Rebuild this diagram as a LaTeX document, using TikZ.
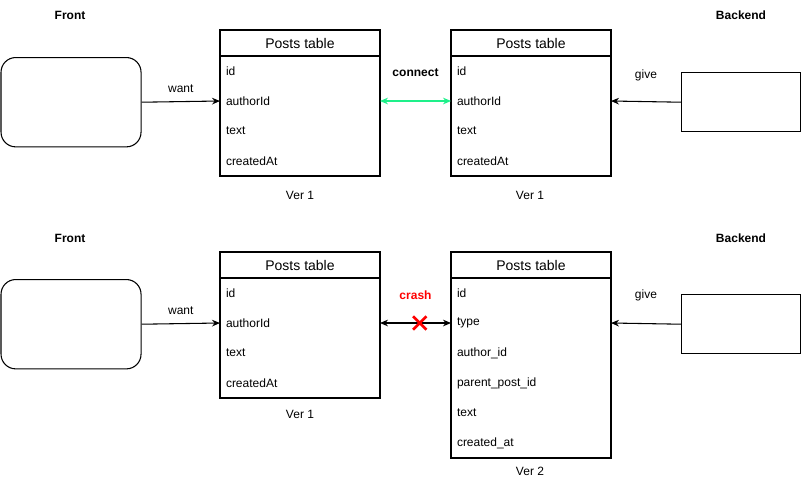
\documentclass[tikz,border=0pt]{standalone}
\usepackage{fontspec}
\setmainfont{Liberation Sans}
\usepackage{xcolor}
\usetikzlibrary{arrows.meta, positioning, shapes.misc}
\definecolor{dbGreen}{HTML}{1EF08A}
\definecolor{dbRed}{HTML}{FF0000}

\begin{document}
\begin{tikzpicture}[
  x=0.75pt, y=-0.75pt, font=\fontsize{9}{11}\selectfont,
  hdr/.style={draw, thick, minimum width=120pt, minimum height=19.5pt, inner sep=0pt, outer sep=0pt,
              font=\fontsize{10.5}{12}\selectfont, anchor=north west},
  row/.style={text width=111pt, inner xsep=4.5pt, inner ysep=0pt, outer sep=0pt, minimum height=22.5pt, align=left},
  client/.style={draw, thick, rounded corners=11pt, minimum width=105pt, minimum height=67pt, anchor=north west},
  server/.style={draw, thick, minimum width=89pt, minimum height=44.5pt, anchor=north west},
  side/.style={font=\bfseries\fontsize{9}{11}\selectfont},
  arr/.style={-{Stealth[length=6pt, width=5pt]}, thick},
  ok/.style={{Stealth[length=6pt, width=5pt]}-{Stealth[length=6pt, width=5pt]}, thick, draw=dbGreen},
  bad/.style={{Stealth[length=6pt, width=5pt]}-{Stealth[length=6pt, width=5pt]}, thick},
  lbl/.style={midway, font=\fontsize{9}{11}\selectfont},
]
\useasboundingbox (0,0) rectangle (801,487);

% ---- top: both on ver 1
\node[side] (front1) at (70,15) {Front};
\node[side] (back1) at (741,15) {Backend};
\node[client] (fe1) at (0.5,57) {};
\node[server] (be1) at (681,72) {};

\node[hdr] (a1) at (220,30) {Posts table};
\node[row, below=0pt of a1] (a1r1) {id};
\node[row, below=0pt of a1r1] (a1r2) {authorId};
\node[row, below=0pt of a1r2] (a1r3) {text};
\node[row, below=0pt of a1r3] (a1r4) {createdAt};
\draw[thick] (a1.north west) rectangle (a1r4.south east);
\node (va1) at (300,195) {Ver 1};

\node[hdr] (b1) at (451,30) {Posts table};
\node[row, below=0pt of b1] (b1r1) {id};
\node[row, below=0pt of b1r1] (b1r2) {authorId};
\node[row, below=0pt of b1r2] (b1r3) {text};
\node[row, below=0pt of b1r3] (b1r4) {createdAt};
\draw[thick] (b1.north west) rectangle (b1r4.south east);
\node (vb1) at (530,195) {Ver 1};

\draw[arr] (fe1.east) -- node[lbl, yshift=9.75pt]{want} (a1r2.west);
\draw[ok] (a1r2.east) -- node[lbl, yshift=21pt, font=\bfseries\fontsize{9}{11}\selectfont]{connect} (b1r2.west);
\draw[arr] (be1.west) -- node[lbl, yshift=20pt]{give} (b1r2.east);

% ---- bottom: front ver 1, backend ver 2
\node[side] (front2) at (70,238) {Front};
\node[side] (back2) at (741,238) {Backend};
\node[client] (fe2) at (0.5,279) {};
\node[server] (be2) at (681,294) {};

\node[hdr] (a2) at (220,252) {Posts table};
\node[row, below=0pt of a2] (a2r1) {id};
\node[row, below=0pt of a2r1] (a2r2) {authorId};
\node[row, below=0pt of a2r2] (a2r3) {text};
\node[row, below=0pt of a2r3] (a2r4) {createdAt};
\draw[thick] (a2.north west) rectangle (a2r4.south east);
\node (va2) at (300,414) {Ver 1};

\node[hdr] (b2) at (451,252) {Posts table};
\node[row, below=0pt of b2] (b2r1) {id};
\node[row, below=0pt of b2r1] (b2r2) {type};
\node[row, below=0pt of b2r2] (b2r3) {author\_id};
\node[row, below=0pt of b2r3] (b2r4) {parent\_post\_id};
\node[row, below=0pt of b2r4] (b2r5) {text};
\node[row, below=0pt of b2r5] (b2r6) {created\_at};
\draw[thick] (b2.north west) rectangle (b2r6.south east);
\node (vb2) at (530,471) {Ver 2};

\draw[arr] (fe2.east) -- node[lbl, yshift=9.75pt]{want} (a2r2.west);
\draw[bad] (a2r2.east) -- node[lbl, yshift=21pt, text=dbRed, font=\bfseries\fontsize{9}{11}\selectfont]{crash}
  node[pos=0.56, cross out, draw=dbRed, line width=2pt, minimum size=8pt, inner sep=0pt] (x2) {} (b2r2.west);
\draw[arr] (be2.west) -- node[lbl, yshift=21pt]{give} (b2r2.east);
\end{tikzpicture}
\end{document}
